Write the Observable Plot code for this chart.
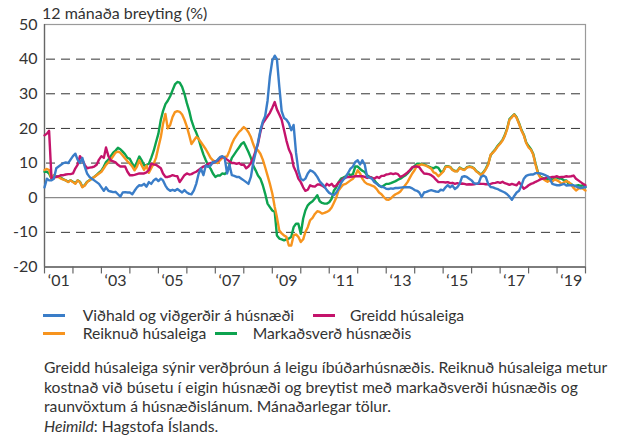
<!DOCTYPE html>
<html>
<head>
<meta charset="utf-8">
<script src="https://cdn.jsdelivr.net/npm/d3@7"></script>
<script src="https://cdn.jsdelivr.net/npm/@observablehq/plot@0.6"></script>
<style>
  body { margin: 0; background: #fff; }
  #wrap { position: relative; width: 620px; height: 440px; font-family: Lato, "Open Sans", sans-serif; color: #333; }
  #title { position: absolute; left: 42px; top: 3px; font-size: 16px; line-height: 19px; white-space: nowrap; }
  #chart { position: absolute; left: 0; top: 0; }
  .lg { position: absolute; font-size: 15.7px; line-height: 19px; white-space: nowrap; }
  .sw { position: absolute; height: 3px; }
  #caption { position: absolute; left: 44px; top: 358px; font-size: 15.7px; line-height: 19.6px; white-space: nowrap; }
</style>
</head>
<body>
<div id="wrap">
  <div id="chart"></div>
  <div id="title">12 mánaða breyting (%)</div>
  <div id="legend"></div>
  <div id="caption">
    Greidd húsaleiga sýnir verðþróun á leigu íbúðarhúsnæðis. Reiknuð húsaleiga metur<br>
    kostnað við búsetu í eigin húsnæði og breytist með markaðsverði húsnæðis og<br>
    raunvöxtum á húsnæðislánum. Mánaðarlegar tölur.<br>
    <i>Heimild</i>: Hagstofa Íslands.
  </div>
</div>
<script>
// Series names and colours
const seriesNames = ["Viðhald og viðgerðir á húsnæði", "Greidd húsaleiga", "Reiknuð húsaleiga", "Markaðsverð húsnæðis"];
const seriesColors = ["#3a7dc8", "#c4136b", "#f7941e", "#0da34f"];

// Monthly values, Jan 2001 .. Jan 2020 (12-month change, %)
const vidhald = [
  3.0, 5.5, 5.0, 5.0, 5.5, 8.5, 9.0, 9.5, 10.0, 10.2, 10.0, 11.0,
  12.0, 12.7, 11.0, 10.0, 11.5, 9.0, 7.0, 6.0, 5.5, 5.0, 4.5, 4.0,
  3.0, 2.0, 3.0, 2.0, 1.8, 1.6, 1.7, 1.0, 0.3, 1.5, 1.6, 1.5,
  1.5, 1.0, 2.0, 3.0, 3.6, 3.5, 4.0, 3.2, 4.5, 4.0, 5.0, 5.5,
  4.8, 5.5, 5.0, 3.5, 2.5, 2.0, 2.3, 2.0, 2.5, 2.0, 1.5, 2.2,
  1.5, 1.1, 1.0, 2.1, 4.0, 6.9, 8.4, 6.5, 9.3, 8.9, 9.3, 10.3,
  10.3, 11.0, 11.7, 12.0, 11.5, 7.0, 9.5, 6.5, 6.3, 6.0, 6.0, 5.5,
  5.0, 4.5, 4.0, 6.0, 10.0, 13.0, 16.0, 19.5, 22.0, 23.5, 28.0, 35.0,
  39.6, 41.0, 40.0, 32.0, 25.0, 23.0, 22.5, 21.5, 19.5, 21.0, 13.0, 7.9,
  5.5, 5.0, 5.5, 7.0, 7.9, 7.6, 7.0, 6.0, 4.7, 4.0, 3.2, 2.2,
  1.4, 1.0, 0.7, 1.5, 2.6, 4.2, 5.2, 6.0, 7.2, 8.4, 9.0, 10.3,
  10.8, 9.6, 10.8, 9.5, 6.0, 5.8, 5.5, 4.5, 4.0, 3.5, 3.2, 3.0,
  2.6, 2.5, 2.7, 2.6, 2.8, 2.8, 2.9, 3.0, 3.0, 3.0, 3.0, 2.7,
  2.2, 2.0, 1.5, 0.2, 1.5, 1.7, 2.0, 2.2, 2.0, 1.8, 1.7, 2.3,
  2.1, 3.0, 3.6, 3.0, 3.5, 2.5, 3.0, 4.0, 6.0, 6.2, 6.0, 5.5,
  5.0, 4.2, 4.0, 4.2, 6.0, 6.4, 6.0, 4.0, 3.1, 3.0, 2.7, 2.5,
  2.1, 1.8, 1.5, 1.0, 0.3, -0.6, 0.5, 1.5, 2.0, 3.5, 5.5, 6.3,
  6.6, 6.7, 6.7, 7.1, 7.1, 7.0, 6.8, 6.5, 6.2, 5.5, 4.0, 3.8,
  3.6, 3.6, 3.8, 4.0, 3.5, 3.6, 3.6, 3.6, 3.3, 3.0, 2.8, 2.9,
  3.1
];
const greidd = [
  18.0, 18.5, 19.3, 5.5, 5.8, 6.0, 6.2, 6.5, 6.5, 6.7, 6.8, 6.8,
  7.0, 8.5, 9.5, 12.0, 11.0, 9.5, 8.5, 8.7, 8.8, 9.0, 9.5, 11.0,
  12.0, 11.5, 14.5, 12.0, 10.8, 10.5, 10.2, 9.5, 9.0, 9.0, 9.0, 7.5,
  6.5, 6.5, 6.6, 6.8, 7.0, 7.0, 7.0, 7.3, 8.0, 9.8, 9.6, 9.5,
  9.0, 8.5, 7.0, 6.0, 6.0, 6.2, 6.5, 6.3, 6.2, 4.5, 5.5, 6.5,
  7.0, 6.7, 6.8, 7.2, 7.5, 8.0, 8.5, 9.0, 9.3, 9.8, 10.0, 10.0,
  10.5, 10.7, 11.5, 11.8, 11.5, 11.0, 10.5, 10.0, 10.0, 9.8, 10.0, 9.5,
  9.5, 8.5, 9.0, 10.0, 11.5, 13.5, 15.5, 19.0, 21.5, 22.5, 23.5, 24.5,
  26.0, 27.6, 25.5, 24.0, 22.5, 19.5, 16.5, 14.0, 12.5, 9.0, 7.5, 5.5,
  4.5, 3.0, 2.0, 2.3, 3.6, 3.3, 3.2, 3.8, 3.8, 3.5, 3.0, 4.0,
  3.5, 4.0, 3.2, 3.5, 4.4, 4.8, 5.5, 5.8, 6.0, 6.0, 6.1, 6.2,
  6.2, 6.2, 6.2, 6.0, 5.7, 6.0, 5.7, 5.5, 6.0, 5.7, 6.3, 6.3,
  6.7, 6.8, 7.0, 6.8, 7.0, 6.8, 6.0, 6.3, 6.8, 7.3, 8.0, 8.8,
  9.0, 9.0, 8.8, 7.8, 7.0, 6.9, 6.8, 6.5, 6.0, 5.2, 4.5, 4.5,
  4.5, 4.4, 4.5, 4.2, 4.3, 4.0, 4.2, 4.0, 4.1, 4.0, 3.8, 3.9,
  3.8, 3.9, 4.0, 4.1, 4.0, 4.0, 3.9, 3.9, 4.0, 4.2, 4.3, 4.5,
  4.3, 4.6, 4.2, 4.0, 3.7, 4.0, 3.8, 3.6, 4.5, 3.5, 2.6, 3.0,
  3.6, 4.0, 4.2, 4.6, 4.9, 5.3, 5.5, 5.5, 6.1, 5.8, 6.0, 6.0,
  6.2, 5.9, 6.0, 6.0, 6.2, 6.1, 6.2, 6.4, 5.5, 5.0, 4.5, 4.0,
  3.6
];
const reiknud = [
  8.0, 8.3, 8.0, 5.5, 6.5, 6.0, 6.0, 5.5, 5.2, 5.0, 4.5, 5.0,
  4.5, 4.0, 5.0, 4.5, 3.0, 3.5, 4.5, 5.0, 5.5, 6.0, 6.5, 7.0,
  7.5, 8.5, 9.5, 10.2, 11.0, 12.0, 13.0, 13.3, 13.0, 12.2, 11.3, 10.5,
  9.8, 9.0, 7.9, 9.0, 10.8, 9.3, 8.0, 9.3, 7.2, 8.5, 9.8, 11.5,
  14.6, 17.5, 21.3, 24.2, 20.0, 21.0, 23.3, 24.7, 25.0, 24.8, 24.0, 22.5,
  20.5, 18.0, 15.5, 16.5, 17.5, 17.0, 16.0, 15.0, 14.0, 12.8, 11.5, 10.8,
  10.3, 10.0, 10.8, 11.5, 11.8, 11.9, 13.5, 15.5, 17.0, 18.0, 19.0, 19.6,
  20.4, 19.8, 18.9, 17.5, 15.5, 13.7, 13.7, 12.7, 11.0, 8.8, 6.4, 4.0,
  1.2, -2.7, -5.6, -9.5, -10.3, -10.9, -11.3, -13.8, -13.8, -10.9, -10.6, -11.3,
  -12.8, -12.0, -9.9, -8.5, -6.5, -5.8, -4.7, -3.9, -4.1, -4.6, -4.4, -4.1,
  -3.7, -2.8, -1.5, 0.0, 2.1, 3.0, 3.8, 4.0, 4.5, 5.0, 5.5, 6.4,
  7.9, 7.0, 5.5, 4.5, 4.0, 3.8, 3.5, 3.2, 2.5, 1.5, 1.0, 0.2,
  -0.5, -0.6, -0.2, 0.5, 1.0, 1.3, 1.8, 2.7, 3.6, 4.5, 5.8, 7.0,
  8.0, 9.3, 9.4, 9.6, 9.4, 9.2, 8.8, 8.4, 7.3, 7.0, 6.2, 6.8,
  7.5, 8.8, 9.0, 8.8, 8.0, 7.6, 7.6, 8.6, 8.2, 8.0, 8.7, 8.9,
  8.8, 8.4, 7.6, 7.1, 6.5, 7.2, 8.2, 9.5, 12.4, 13.0, 13.8, 14.8,
  15.6, 16.5, 17.8, 19.8, 22.5, 23.2, 24.0, 23.0, 21.3, 19.4, 18.0, 15.8,
  14.5, 13.8, 12.5, 9.5, 7.0, 5.8, 5.5, 5.0, 4.6, 5.0, 4.6, 5.3,
  5.0, 4.6, 4.0, 4.5, 4.8, 4.5, 3.8, 2.8, 2.1, 2.6, 2.8, 2.6,
  2.1
];
const markadsverd = [
  7.5, 7.5, 7.0, 5.5, 6.5, 6.2, 6.0, 5.8, 5.3, 5.0, 4.6, 5.0,
  4.6, 4.2, 5.0, 4.6, 3.2, 3.6, 4.6, 5.0, 5.6, 6.0, 6.6, 7.2,
  7.8, 9.0, 10.3, 11.0, 12.0, 13.0, 13.6, 14.4, 14.0, 13.3, 12.5, 11.5,
  11.2, 9.8, 8.8, 10.3, 11.9, 10.8, 9.3, 9.5, 9.8, 11.5, 13.5, 16.0,
  18.5, 22.5, 25.0, 27.0, 28.0, 29.3, 31.0, 32.7, 33.4, 33.2, 32.0, 30.0,
  27.3, 25.0, 22.3, 20.3, 18.8, 17.0, 14.6, 12.5, 10.8, 9.3, 8.4, 7.0,
  6.0, 6.4, 6.4, 7.0, 6.8, 7.5, 9.5, 11.5, 12.5, 13.5, 14.5, 15.5,
  16.0, 14.6, 13.2, 11.5, 9.3, 7.9, 6.4, 5.5, 3.6, 1.2, -1.7, -2.7,
  -3.7, -4.1, -10.9, -11.8, -12.0, -12.3, -12.0, -11.8, -11.3, -8.5, -7.5, -7.5,
  -10.4, -6.0, -3.7, -2.2, -1.5, -1.0, -0.2, 0.7, -1.0, -1.5, -1.7, -1.7,
  -1.3, -0.3, 2.0, 3.0, 4.5, 5.5, 5.8, 6.2, 6.9, 6.5, 6.8, 9.0,
  9.0, 8.3, 7.8, 7.4, 6.5, 6.0, 5.8, 5.0, 4.2, 3.5, 3.1, 3.5,
  4.0, 4.0, 4.2, 4.5, 4.8, 5.2, 5.5, 6.0, 6.4, 7.0, 7.8, 8.6,
  9.2, 9.8, 9.8, 9.7, 9.6, 9.3, 9.0, 8.7, 8.5, 8.9, 8.6, 7.5,
  7.6, 9.0, 9.1, 8.9, 8.1, 7.7, 7.7, 8.7, 8.3, 8.1, 8.8, 9.0,
  8.9, 8.5, 7.7, 7.2, 6.6, 7.4, 8.4, 9.8, 12.2, 13.2, 14.0, 15.0,
  15.8, 16.7, 18.0, 20.0, 22.7, 23.4, 24.1, 23.2, 21.5, 19.6, 18.2, 16.0,
  14.9, 14.0, 12.7, 9.8, 7.3, 6.0, 5.7, 5.5, 5.2, 5.7, 5.0, 5.8,
  5.8, 5.5, 5.5, 5.0, 5.0, 3.8, 4.0, 3.2, 3.5, 3.6, 3.4, 3.6,
  3.1
];

// Axis ticks / labels
const yTicks = [-20, -10, 0, 10, 20, 30, 40, 50];
const gridDashed = [-10, 10, 20, 30, 40];
const yearLabels = [2001, 2003, 2005, 2007, 2009, 2011, 2013, 2015, 2017, 2019];
const yearBounds = d3.range(2001, 2021);

const allSeries = [vidhald, greidd, reiknud, markadsverd];
const rows = [];
allSeries.forEach((vals, s) => vals.forEach((v, i) => rows.push({date: new Date(Date.UTC(2001, i, 1)), value: v, series: seriesNames[s]})));

const drawOrder = [3, 2, 1, 0]; // green, orange, magenta, blue (blue on top)
const lineMarks = drawOrder.map(s => Plot.line(rows.filter(r => r.series === seriesNames[s]), {
  x: "date", y: "value", stroke: seriesColors[s], strokeWidth: 2.4, strokeLinejoin: "round"
}));

const chart = Plot.plot({
  width: 620,
  height: 290,
  marginLeft: 44,
  marginRight: 35,
  marginTop: 24,
  marginBottom: 23.5,
  style: {fontFamily: "Lato, 'Open Sans', sans-serif", fontSize: "16px", color: "#333", background: "transparent"},
  x: {type: "utc", domain: [new Date(Date.UTC(2001, 0, 1)), new Date(Date.UTC(2020, 0, 1))], label: null},
  y: {domain: [-20, 50], label: null},
  marks: [
    Plot.ruleY(gridDashed, {stroke: "#333", strokeWidth: 1, strokeDasharray: "9,6", strokeDashoffset: -2}),
    Plot.ruleY([0], {stroke: "#8a8a8a", strokeWidth: 1.3}),
    Plot.frame({stroke: "#9a9a9a", strokeWidth: 1.2}),
    Plot.ruleX([new Date(Date.UTC(2001, 0, 1))], {stroke: "#666", strokeWidth: 1.3}),
    Plot.ruleY([-20], {stroke: "#666", strokeWidth: 1.3}),
    Plot.ruleX(yearBounds, {x: d => new Date(Date.UTC(d, 0, 1)), y1: -20, y2: -22, stroke: "#666", strokeWidth: 1.2}),
    Plot.axisY(yTicks, {tickSize: 0, tickPadding: 7, fontSize: 16, fill: "#333", label: null, tickFormat: d => String(d)}),
    Plot.axisX(yearLabels.map(y => new Date(Date.UTC(y, 6, 2))), {
      tickSize: 0, tickPadding: 8, fontSize: 16, fill: "#333", label: null,
      tickFormat: d => "\u2018" + String(d.getUTCFullYear()).slice(2)
    }),
    ...lineMarks
  ]
});
document.getElementById("chart").appendChild(chart);

// Legend (HTML)
const legendItems = [
  {s: 0, sx: 43, tx: 82.7, y: 315},
  {s: 1, sx: 312.7, tx: 350, y: 315},
  {s: 2, sx: 43, tx: 82.7, y: 333},
  {s: 3, sx: 215, tx: 252.7, y: 333}
];
const lg = document.getElementById("legend");
legendItems.forEach(it => {
  const sw = document.createElement("div");
  sw.className = "sw";
  sw.style.left = it.sx + "px";
  sw.style.top = (it.y - 1.5) + "px";
  sw.style.width = "22px";
  sw.style.background = seriesColors[it.s];
  lg.appendChild(sw);
  const t = document.createElement("div");
  t.className = "lg";
  t.style.left = it.tx + "px";
  t.style.top = (it.y - 9.5) + "px";
  t.textContent = seriesNames[it.s];
  lg.appendChild(t);
});
</script>
</body>
</html>
